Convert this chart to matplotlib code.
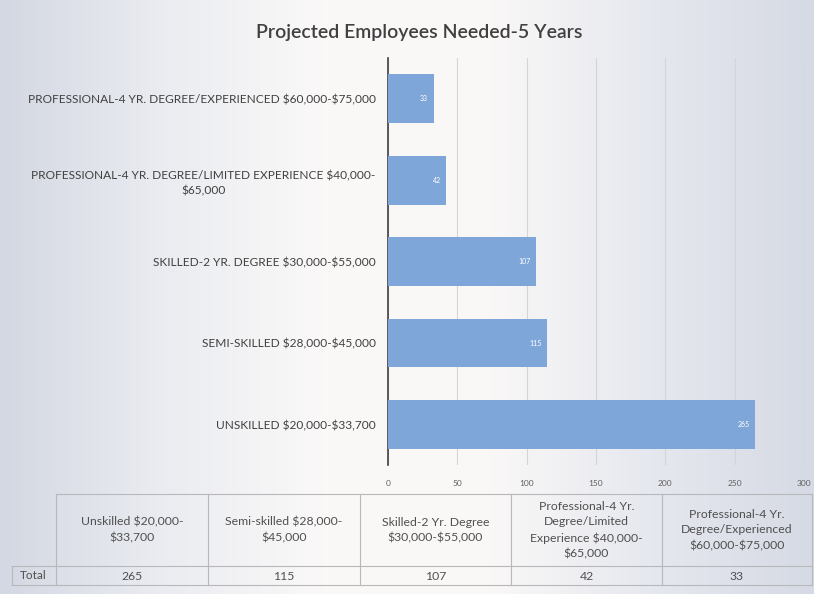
import matplotlib.pyplot as plt
import numpy as np
from matplotlib.colors import LinearSegmentedColormap

plt.rcParams['font.family'] = ['Lato', 'DejaVu Sans']
plt.rcParams['text.parse_math'] = False

# data
categories = [
    'UNSKILLED $20,000-$33,700',
    'SEMI-SKILLED $28,000-$45,000',
    'SKILLED-2 YR. DEGREE $30,000-$55,000',
    'PROFESSIONAL-4 YR. DEGREE/LIMITED EXPERIENCE $40,000-\n$65,000',
    'PROFESSIONAL-4 YR. DEGREE/EXPERIENCED $60,000-$75,000',
]
employees = [265, 115, 107, 42, 33]
table_headers = [
    'Unskilled $20,000-\n$33,700',
    'Semi-skilled $28,000-\n$45,000',
    'Skilled-2 Yr. Degree\n$30,000-$55,000',
    'Professional-4 Yr.\nDegree/Limited\nExperience $40,000-\n$65,000',
    'Professional-4 Yr.\nDegree/Experienced\n$60,000-$75,000',
]
row_label = 'Total'

fig = plt.figure(figsize=(8.14, 5.94), dpi=100)

# soft gradient backdrop like the photographed slide
bg = fig.add_axes([0, 0, 1, 1], zorder=-10)
cmap = LinearSegmentedColormap.from_list(
    'bg', ['#d4d8e2', '#eaecf1', '#fbf9f8', '#faf8f7', '#e6e8ef', '#d6dae4'])
bg.imshow(np.linspace(0, 1, 256)[None, :], aspect='auto', cmap=cmap,
          extent=[0, 1, 0, 1])
bg.axis('off')

# ---- bar chart ----
ax = fig.add_axes([0.4767, 0.217, 0.511, 0.685])
ax.patch.set_alpha(0)
y = np.arange(len(categories))
ax.barh(y, employees, height=0.6, color='#7ea6d8', zorder=3)
for yi, v in zip(y, employees):
    ax.text(v - 4, yi, str(v), ha='right', va='center', color='white',
            fontsize=5, zorder=4)

ax.set_xlim(0, 300)
ax.set_ylim(-0.5, len(categories) - 0.5)
ax.set_xticks(np.arange(0, 301, 50))
ax.set_yticks(y)
ax.set_yticklabels(categories, fontsize=8.6, color='#404040',
                   multialignment='center', linespacing=1.5)
ax.tick_params(axis='x', labelsize=6, labelcolor='#606060', length=0, pad=11)
ax.tick_params(axis='y', length=0, pad=9)
ax.grid(axis='x', color='#d4d4d8', linewidth=0.8, zorder=0)
for s in ['top', 'right', 'bottom']:
    ax.spines[s].set_visible(False)
ax.spines['left'].set_color('#404040')
ax.spines['left'].set_linewidth(1.2)

fig.text(0.515, 0.945, 'Projected Employees Needed-5 Years', ha='center',
         va='center', fontsize=14, color='#404040', fontweight='semibold')

# ---- data table, drawn in pixel coordinates ----
tax = fig.add_axes([0, 0, 1, 1])
tax.set_xlim(0, 814)
tax.set_ylim(594, 0)
tax.axis('off')
col_edges = [56, 208, 360, 511, 662, 812]
label_left = 12
top, mid, bottom = 494, 566, 585
line_kw = dict(color='#b8b8bc', linewidth=0.8)
tax.plot([col_edges[0], col_edges[-1]], [top, top], **line_kw)
tax.plot([label_left, col_edges[-1]], [mid, mid], **line_kw)
tax.plot([label_left, col_edges[-1]], [bottom, bottom], **line_kw)
tax.plot([label_left, label_left], [mid, bottom], **line_kw)
for x in col_edges:
    tax.plot([x, x], [top, bottom], **line_kw)
tax.text(label_left + 8, (mid + bottom) / 2, row_label, ha='left',
         va='center', fontsize=8.5, color='#505050')
for i, (h, v) in enumerate(zip(table_headers, employees)):
    xc = (col_edges[i] + col_edges[i + 1]) / 2
    tax.text(xc, (top + mid) / 2, h, ha='center', va='center', fontsize=8.8,
             color='#505050', linespacing=1.5)
    tax.text(xc, (mid + bottom) / 2 + 1, str(v), ha='center', va='center',
             fontsize=8.8, color='#505050')

plt.savefig('out.png', dpi=100)
